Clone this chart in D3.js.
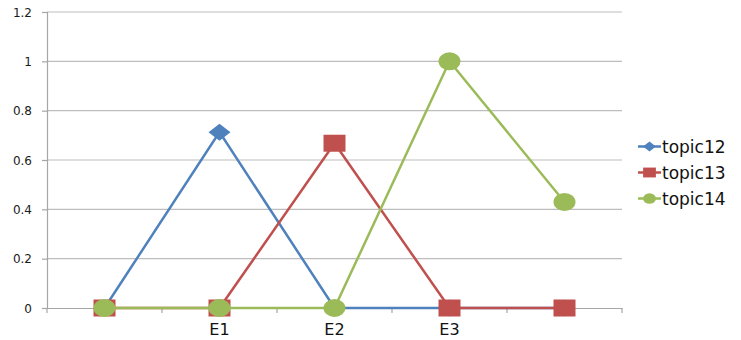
<!DOCTYPE html>
<html><head><meta charset="utf-8">
<script src="https://cdn.jsdelivr.net/npm/d3@7"></script>
<style>body{margin:0;background:#fff}svg{display:block}</style>
</head><body>
<svg id="c" width="741" height="340"></svg>
<script>
const categories = ["", "E1", "E2", "E3", ""];
const topic12 = [0, 0.713, 0, 0, 0];
const topic13 = [0, 0, 0.668, 0, 0];
const topic14 = [0, 0, 0, 1, 0.43];
const yTicks = [0, 0.2, 0.4, 0.6, 0.8, 1, 1.2];
const seriesNames = ["topic12", "topic13", "topic14"];

const series = [
  {name: seriesNames[0], values: topic12, color: "#4F81BD", marker: "diamond"},
  {name: seriesNames[1], values: topic13, color: "#C0504D", marker: "square"},
  {name: seriesNames[2], values: topic14, color: "#9BBB59", marker: "circle"}
];

const FONT = "'DejaVu Sans', sans-serif";
const svg = d3.select("#c");
const x = d3.scaleBand().domain(d3.range(categories.length)).range([47, 622]);
const y = d3.scaleLinear().domain([0, 1.2]).range([308, 12]);
const cx = i => x(i) + x.bandwidth() / 2;

// gridlines
svg.append("g").selectAll("line").data(yTicks.filter(d => d > 0)).join("line")
  .attr("x1", 47).attr("x2", 622).attr("y1", d => y(d)).attr("y2", d => y(d))
  .attr("stroke", "#BDBDBD").attr("stroke-width", 1.2);

// y axis
const yAxis = svg.append("g").attr("transform", "translate(47,0)")
  .call(d3.axisLeft(y).tickValues(yTicks).tickSize(5).tickPadding(10)
    .tickFormat(d => d3.format("~g")(d)));
yAxis.select(".domain").attr("stroke", "#A6A6A6").attr("stroke-width", 1.2);
yAxis.selectAll(".tick line").attr("stroke", "#A6A6A6").attr("stroke-width", 1.2);
yAxis.selectAll("text").attr("font-family", FONT).attr("font-size", 12)
  .attr("fill", "#1a1a1a").attr("dy", "0.35em");

// x axis
const xAxis = svg.append("g").attr("transform", "translate(0,308)")
  .call(d3.axisBottom(x).tickSize(0).tickPadding(0).tickFormat(i => categories[i]));
xAxis.select(".domain").attr("stroke", "#A6A6A6").attr("stroke-width", 1.2);
xAxis.selectAll("text").attr("font-family", FONT).attr("font-size", 16)
  .attr("fill", "#111").attr("dy", null).attr("y", 27);
const bounds = d3.range(categories.length + 1).map(i => i < categories.length ? x(i) : x(i - 1) + x.bandwidth());
svg.append("g").selectAll("line").data(bounds).join("line")
  .attr("x1", d => d).attr("x2", d => d).attr("y1", 308).attr("y2", 313)
  .attr("stroke", "#A6A6A6").attr("stroke-width", 1.2);

function drawMarker(g, type, color, px, py, s) {
  if (type === "diamond") {
    g.append("path").attr("d", `M${px},${py - 8.5*s}L${px + 11*s},${py}L${px},${py + 8.5*s}L${px - 11*s},${py}Z`)
      .attr("fill", color);
  } else if (type === "square") {
    g.append("rect").attr("x", px - 11*s).attr("y", py - 8.5*s).attr("width", 22*s).attr("height", 17*s)
      .attr("fill", color);
  } else {
    g.append("ellipse").attr("cx", px).attr("cy", py).attr("rx", 11*s).attr("ry", 9*s).attr("fill", color);
  }
}

const line = d3.line().x((d, i) => cx(i)).y(d => y(d));
series.forEach(s => {
  const g = svg.append("g");
  g.append("path").datum(s.values).attr("d", line).attr("fill", "none")
    .attr("stroke", s.color).attr("stroke-width", 2.5);
  s.values.forEach((v, i) => drawMarker(g, s.marker, s.color, cx(i), y(v), 1));
});

// legend
const lg = svg.append("g");
series.forEach((s, k) => {
  const ly = 146.5 + k * 26;
  lg.append("line").attr("x1", 638).attr("x2", 661).attr("y1", ly).attr("y2", ly)
    .attr("stroke", s.color).attr("stroke-width", 2.5);
  drawMarker(lg, s.marker, s.color, 649.5, ly, 0.58);
  lg.append("text").attr("x", 662).attr("y", ly).attr("dy", "0.36em")
    .attr("font-family", FONT).attr("font-size", 17).attr("fill", "#111")
    .text(s.name);
});
</script>
</body></html>
